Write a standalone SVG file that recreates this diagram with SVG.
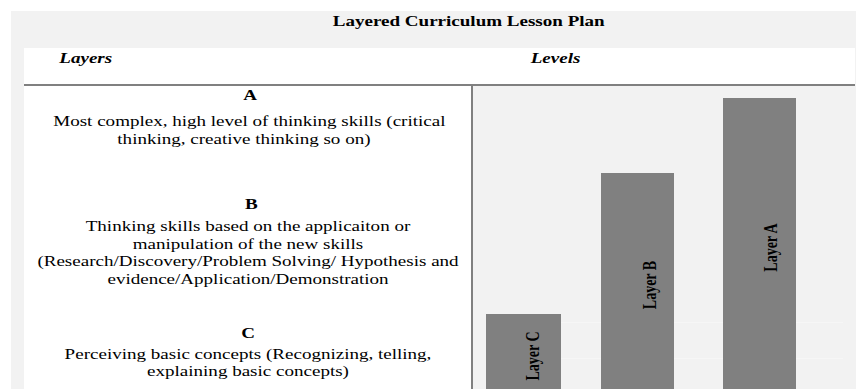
<svg xmlns="http://www.w3.org/2000/svg" width="856" height="389" viewBox="0 0 856 389">
<style>
.t{font-family:"Liberation Serif","Times New Roman",serif;font-size:14px;fill:#000}
.b{font-weight:bold}
.bi{font-weight:bold;font-style:italic}
.m{text-anchor:middle}
.bar{fill:#808080}
.rule{stroke:#808080;stroke-width:2;fill:none}
</style>
<rect x="0" y="0" width="856" height="389" fill="#ffffff"/>
<g id="panel">
<rect x="11" y="11" width="845" height="378" fill="#f2f2f2"/>
<rect x="24" y="48" width="831" height="36" fill="#ffffff"/>
<rect x="24" y="86" width="447" height="303" fill="#ffffff"/>
<line x1="486" y1="322.5" x2="843" y2="322.5" stroke="#f6f6f6" stroke-width="1"/>
<line x1="486" y1="358.5" x2="843" y2="358.5" stroke="#f6f6f6" stroke-width="1"/>
</g>
<g id="title">
<text class="t b m" transform="translate(468.7 26) scale(1.36 1)">Layered Curriculum Lesson Plan</text>
</g>
<g id="headers">
<text class="t bi" transform="translate(59.3 62.7) scale(1.36 1)">Layers</text>
<text class="t bi" transform="translate(530.7 62.7) scale(1.36 1)">Levels</text>
</g>
<g id="connectors">
<line class="rule" x1="24" y1="85" x2="855" y2="85"/>
<line class="rule" x1="472" y1="85" x2="472" y2="389"/>
</g>
<g id="layer-a-desc" transform="translate(248 0) scale(1.36 1)">
<text class="t b m" x="1.5" y="100">A</text>
<text class="t m" x="1" y="126">Most complex, high level of thinking skills (critical</text>
<text class="t m" x="-3" y="144">thinking, creative thinking so on)</text>
</g>
<g id="layer-b-desc" transform="translate(248 0) scale(1.36 1)">
<text class="t b m" x="2.5" y="209">B</text>
<text class="t m" x="0" y="231">Thinking skills based on the applicaiton or</text>
<text class="t m" x="0" y="249">manipulation of the new skills</text>
<text class="t m" x="0" y="266">(Research/Discovery/Problem Solving/ Hypothesis and</text>
<text class="t m" x="0" y="284">evidence/Application/Demonstration</text>
</g>
<g id="layer-c-desc" transform="translate(248 0) scale(1.36 1)">
<text class="t b m" x="0" y="338">C</text>
<text class="t m" x="0" y="359">Perceiving basic concepts (Recognizing, telling,</text>
<text class="t m" x="0" y="376">explaining basic concepts)</text>
</g>
<g id="bar-c">
<rect class="bar" x="486" y="314" width="75" height="75"/>
<text class="t b m" transform="translate(539 356) scale(1.36 1) rotate(-90)">Layer C</text>
</g>
<g id="bar-b">
<rect class="bar" x="601" y="173" width="73" height="216"/>
<text class="t b m" transform="translate(656 285) scale(1.36 1) rotate(-90)">Layer B</text>
</g>
<g id="bar-a">
<rect class="bar" x="723" y="98" width="73" height="291"/>
<text class="t b m" transform="translate(777 247.5) scale(1.36 1) rotate(-90)">Layer A</text>
</g>
</svg>
